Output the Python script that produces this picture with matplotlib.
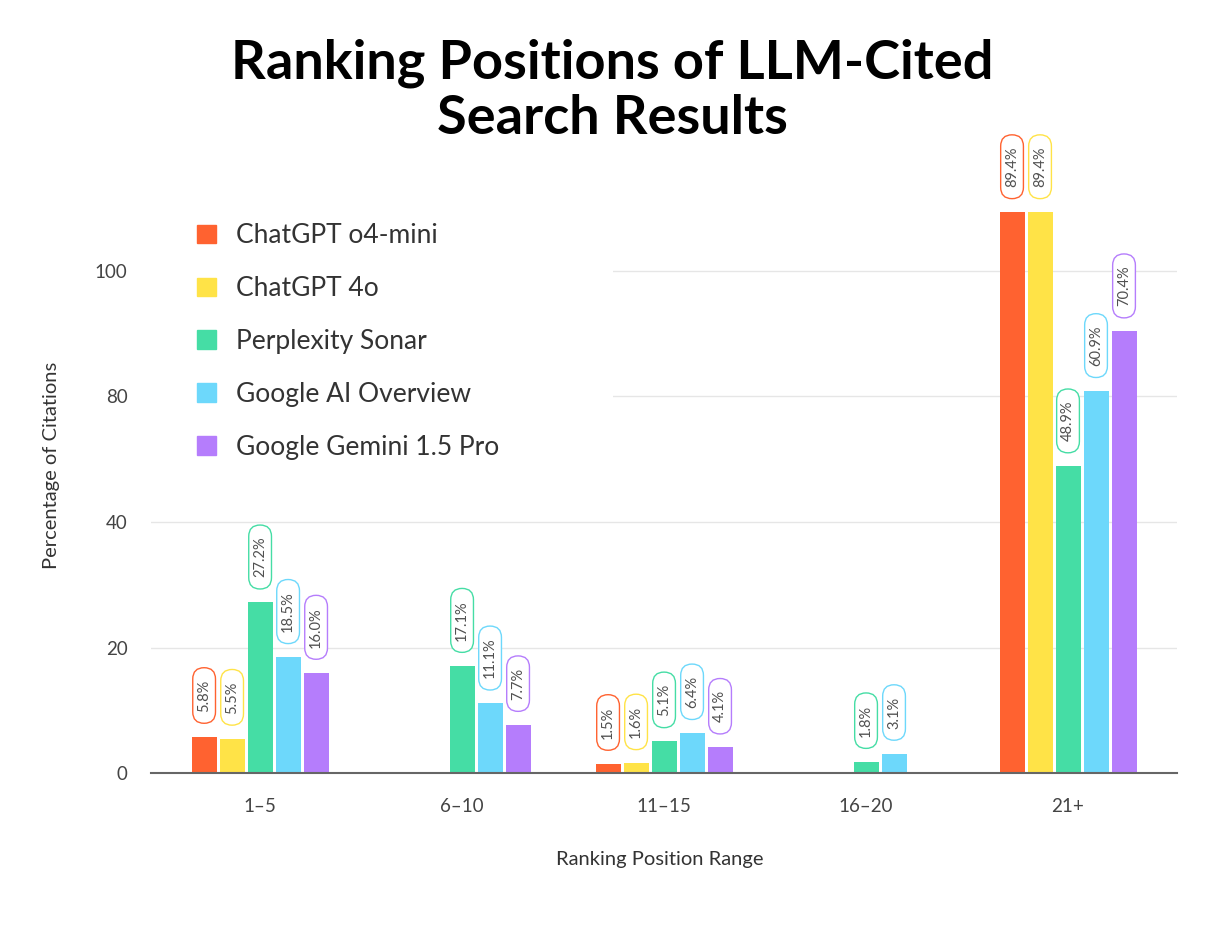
import numpy as np
import matplotlib
matplotlib.use('Agg')
import matplotlib.pyplot as plt
from matplotlib.patches import BoxStyle, Rectangle

# data
categories = ['1–5', '6–10', '11–15', '16–20', '21+']
models = ['ChatGPT o4-mini', 'ChatGPT 4o', 'Perplexity Sonar',
          'Google AI Overview', 'Google Gemini 1.5 Pro']
o4mini = [5.8, None, 1.5, None, 89.4]
gpt4o = [5.5, None, 1.6, None, 89.4]
sonar = [27.2, 17.1, 5.1, 1.8, 48.9]
aio = [18.5, 11.1, 6.4, 3.1, 60.9]
gemini = [16.0, 7.7, 4.1, None, 70.4]
series = [o4mini, gpt4o, sonar, aio, gemini]
colors = ['#FF6230', '#FFE347', '#45DDA5', '#6DD8FB', '#B57DFC']

# the source graphic labels its gridlines like this
ytick_pos = [0, 20, 40, 60, 80]
ytick_lab = ['0', '20', '40', '80', '100']

plt.rcParams['font.family'] = ['Lato', 'DejaVu Sans']


def pill(x0, y0, width, height, mutation_size):
  # rounded capsule, more padding along the text than across it
  padx = 0.8 * mutation_size
  pady = 0.3 * mutation_size
  x0 -= padx
  y0 -= pady
  width += 2 * padx
  height += 2 * pady
  r = height / 2.0
  return BoxStyle.Round(pad=0, rounding_size=r / mutation_size)(x0, y0, width, height, mutation_size)


fig = plt.figure(figsize=(12.25, 9.25), dpi=100)
ax = fig.add_axes([0.1233, 0.1643, 0.8376, 0.692])

x = np.arange(len(categories))
step = 0.1386
bw = 0.1238
handles = []
for j, vals in enumerate(series):
  for i, v in enumerate(vals):
    if v is None:
      continue
    xi = x[i] + (j - 2) * step
    ax.bar(xi, v, width=bw, color=colors[j], zorder=3)
    ax.annotate('{:.1f}%'.format(v), xy=(xi, v), xytext=(0, 18),
                textcoords='offset points', rotation=90,
                ha='center', va='bottom', fontsize=10.5, color='#505050',
                zorder=4,
                bbox=dict(boxstyle=pill, fc='white', ec=colors[j], lw=1.0))
  handles.append(Rectangle((0, 0), 1, 1, color=colors[j]))

ax.set_xlim(-0.54, 4.54)
ax.set_ylim(0, 102)
ax.set_xticks(x)
ax.set_xticklabels(categories, fontsize=13.5, color='#444444')
ax.set_yticks(ytick_pos)
ax.set_yticklabels(ytick_lab, fontsize=13.5, color='#444444')
ax.tick_params(axis='x', length=0, pad=18)
ax.tick_params(axis='y', length=0, pad=17)
for tick in ytick_pos[1:]:
  ax.axhline(tick, color='#E6E6E6', lw=1.0, zorder=0.5)
for s in ['top', 'right', 'left']:
  ax.spines[s].set_visible(False)
ax.spines['bottom'].set_color('#666666')
ax.spines['bottom'].set_linewidth(1.5)
ax.spines['bottom'].set_zorder(5)

# white area behind the legend hides the upper gridlines
ax.add_patch(Rectangle((0, 0.473), 0.45, 0.43, transform=ax.transAxes,
                       fc='white', ec='none', zorder=1))

leg = ax.legend(handles, models, loc='upper left', bbox_to_anchor=(0.0448, 0.859),
                frameon=False, fontsize=19, handlelength=0.72, handleheight=0.72,
                handletextpad=0.76, labelspacing=1.06, borderpad=0, borderaxespad=0)
for t in leg.get_texts():
  t.set_color('#333333')

ax.set_ylabel('Percentage of Citations', fontsize=14.5, color='#333333')
ax.yaxis.set_label_coords(-0.0887, 0.48)
ax.set_xlabel('Ranking Position Range', fontsize=14.5, color='#333333')
ax.xaxis.set_label_coords(0.496, -0.122)

fig.text(0.5, 0.958, 'Ranking Positions of LLM-Cited\nSearch Results', ha='center', va='top',
         fontsize=39, fontweight='bold', color='black', linespacing=1.13)

plt.savefig('out.png', dpi=100)
